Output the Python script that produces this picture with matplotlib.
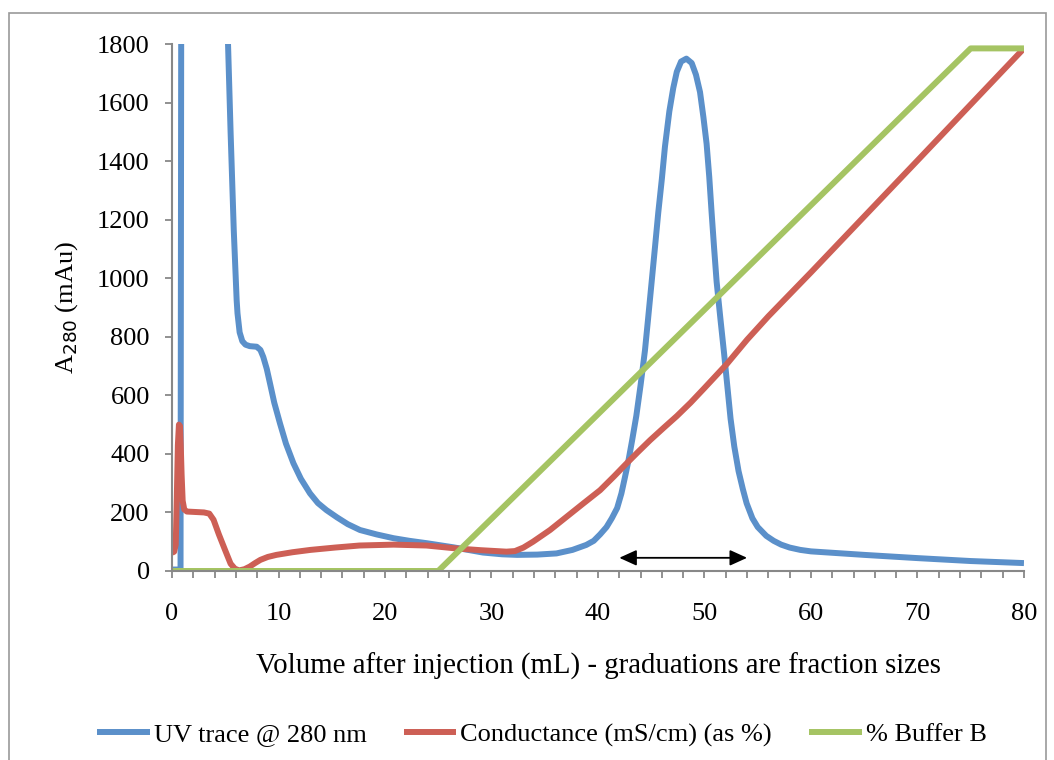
import numpy as np
import matplotlib
matplotlib.use("Agg")
import matplotlib.pyplot as plt
from matplotlib.ticker import MultipleLocator
from matplotlib.patches import Rectangle

# UV absorbance at 280 nm (mAu) vs volume after injection (mL)
uv_vol = [0.0, 0.8, 0.85, 0.88, 4.9, 5.0, 5.26, 5.5, 5.8, 6.07, 6.15, 6.35, 6.6,
          6.9, 7.3, 7.95, 8.3, 8.57, 8.9, 9.2, 9.6, 10.14, 10.7, 11.4, 12.1,
          12.96, 13.7, 14.5, 15.5, 16.5, 17.65, 19.2, 20.8, 22.3, 23.9, 26.4,
          29.2, 31.0, 32.4, 34.3, 36.1, 37.6, 38.9, 39.6, 40.2, 40.8, 41.3,
          41.8, 42.2, 42.5, 42.85, 43.2, 43.6, 44.0, 44.41, 44.7, 45.04, 45.35,
          45.66, 46.0, 46.29, 46.7, 47.07, 47.4, 47.8, 48.3, 48.8, 49.2, 49.58,
          49.9, 50.2, 50.45, 50.67, 50.9, 51.14, 51.5, 51.85, 52.15, 52.45,
          52.8, 53.2, 53.6, 53.96, 54.5, 55.0, 55.8, 56.5, 57.2, 58.0, 59.0,
          60.0, 65.0, 70.0, 75.0, 80.0]
uv_mau = [5, 5, 1500, 2300, 2300, 2100, 1800, 1500, 1163, 925, 880, 815, 785,
          773, 768, 766, 755, 731, 690, 641, 575, 504, 435, 368, 315,
          265, 232, 208, 183, 160, 140, 125, 112, 103, 95, 81,
          63, 57, 55, 56, 60, 72, 89, 103, 125, 150, 180,
          215, 265, 315, 375, 445, 530, 635, 753, 860, 988, 1105,
          1224, 1340, 1450, 1570, 1650, 1705, 1740, 1750, 1735, 1695, 1636,
          1550, 1459, 1345, 1224, 1105, 988, 860, 740, 630, 520,
          425, 341, 280, 231, 180, 150, 120, 103, 90, 80, 72,
          67, 55, 44, 34, 27]

# conductance, scaled as a percentage onto the same axis
cond_vol = [0.0, 0.2, 0.35, 0.45, 0.55, 0.65, 0.75, 0.82, 0.9, 1.0, 1.15, 1.4,
            3.0, 3.5, 3.9, 4.4, 5.0, 5.5, 5.9, 6.3, 6.8, 7.3, 7.8, 8.3, 9.0,
            9.8, 11.3, 13.0, 15.3, 17.6, 20.8, 23.9, 26.7, 29.0, 31.4, 32.2,
            33.0, 33.9, 35.5, 37.05, 38.6, 40.2, 41.5, 42.7, 43.8, 44.9, 46.2,
            47.4, 48.7, 50.0, 51.1, 52.1, 54.0, 56.0, 58.0, 60.0, 70.0, 80.0]
cond_pct = [62, 66, 90, 250, 430, 500, 495, 430, 330, 240, 210, 203,
            200, 196, 175, 125, 70, 25, 8, 2, 6, 15, 27, 38, 48,
            55, 64, 72, 80, 87, 90, 87, 77, 71, 66, 68,
            80, 100, 140, 185, 230, 276, 323, 368, 408, 447, 490,
            529, 575, 625, 668, 707, 790, 870, 945, 1020, 1402, 1785]

# gradient programme for buffer B
buf_vol = [0, 25, 75, 80]
buf_pct = [0, 0, 1785, 1785]

# fraction range collected
frac_start, frac_end, frac_level = 42, 54, 45

plt.rcParams["font.family"] = ["Liberation Serif", "DejaVu Serif"]
plt.rcParams["font.size"] = 19

fig = plt.figure(figsize=(10.54, 7.6), dpi=100)
ax = fig.add_axes([0.1632, 0.2487, 0.8083, 0.6934])

line_kw = dict(lw=4.3, solid_joinstyle="round", solid_capstyle="butt")
ax.plot(uv_vol, uv_mau, color="#5B90CA", label="UV trace @ 280 nm", **line_kw)
ax.plot(cond_vol, cond_pct, color="#CD5F55",
        label="Conductance (mS/cm) (as %)", **line_kw)
ax.plot(buf_vol, buf_pct, color="#A5C463", label="% Buffer B", **line_kw)

ax.annotate("", xy=(frac_start, frac_level), xytext=(frac_end, frac_level),
            arrowprops=dict(arrowstyle="<|-|>,head_length=0.55,head_width=0.25",
                            color="black", lw=1.3, shrinkA=0, shrinkB=0))

ax.set_xlim(0, 80)
ax.set_ylim(0, 1800)
ax.xaxis.set_major_locator(MultipleLocator(10))
ax.xaxis.set_minor_locator(MultipleLocator(2))
ax.yaxis.set_major_locator(MultipleLocator(200))

grey = "#888888"
for side in ["top", "right"]:
    ax.spines[side].set_visible(False)
for side in ["left", "bottom"]:
    ax.spines[side].set_color(grey)
    ax.spines[side].set_linewidth(1.5)
ax.tick_params(axis="both", which="both", direction="out", color=grey,
               width=1.3, length=5)
ax.tick_params(axis="x", pad=18)
ax.tick_params(axis="y", pad=11)

ax.set_xlabel("Volume after injection (mL) - graduations are fraction sizes",
              fontsize=20.8, labelpad=20)
ax.set_ylabel("A$_{280}$ (mAu)", labelpad=12)

fig.legend(loc="center", bbox_to_anchor=(0.514, 0.033), ncol=3, frameon=False,
           handlelength=2.0, handletextpad=0.15, columnspacing=1.4)

# outer chart frame
fig.patches.append(Rectangle((9 / 1054, -0.05), 1037 / 1054, 1.05 - 13 / 760,
                             transform=fig.transFigure, fill=False,
                             edgecolor="#999999", lw=1.2))

fig.savefig("out.png", dpi=100)
